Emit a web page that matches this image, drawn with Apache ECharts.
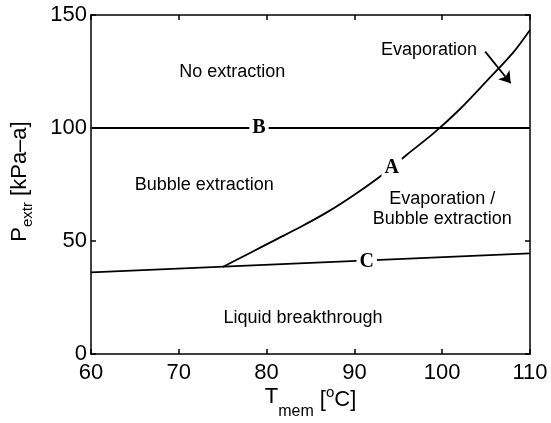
<!DOCTYPE html>
<html><head><meta charset="utf-8">
<script src="https://cdn.jsdelivr.net/npm/echarts@6/dist/echarts.min.js"></script>
<style>html,body{margin:0;padding:0;background:#fff}#c{width:551px;height:423px}</style>
</head><body><div id="c"></div>
<script>
// ---- data ----
const xRange = [60, 110];
const yRange = [0, 150];
const xStep = 10;
const yStep = 50;
// Curve A (evaporation boundary)
const curveA = [[75,38.5],[78,44.5],[81,50.5],[84,56.5],[87,63],[90,70.5],[93,78.8],[96,88.3],[99,97.6],[102,108.3],[105,120.5],[108,133],[110,143.4]];
// Line B (no extraction boundary)
const lineB = [[60,100],[110,100]];
// Line C (liquid breakthrough boundary)
const lineC = [[60,36.1],[110,44.5]];
// Arrow next to "Evaporation"
const arrowFrom = [104.9,133.8];
const arrowTo = [107.8,119.8];
// Region labels
const regionNames = ['No extraction','Bubble extraction','Evaporation','Evaporation /','Bubble extraction','Liquid breakthrough'];
const regionX = [76.1, 72.9, 98.5, 100.0, 100.0, 84.15];
const regionY = [124.8, 74.8, 134.5, 68.5, 59.5, 15.9];
// Curve letters
const letterNames = ['A','B','C'];
const letterX = [94.25, 79.13, 91.4];
const letterY = [82.2, 100, 40.9];

// ---- chart ----
const black = '#000';
const F = 'Liberation Sans';
const axBase = {
  type:'value', splitLine:{show:false}, nameMoveOverlap:false,
  axisLine:{show:true, onZero:false, lineStyle:{color:black, width:1.5}},
  axisTick:{show:true, inside:true, length:5, lineStyle:{color:black, width:1.5}}
};
const chart = echarts.init(document.getElementById('c'), null, {renderer:'canvas'});
chart.setOption({
  animation:false,
  backgroundColor:'#fff',
  grid:{left:91, right:21, top:15, bottom:69, containLabel:false, outerBoundsMode:'none'},
  xAxis:[
    Object.assign({}, axBase, {min:xRange[0], max:xRange[1], interval:xStep, position:'bottom',
      axisLabel:{color:black, fontSize:22, fontFamily:F, margin:8},
      name:'{t|T}{s|mem}{b| [}{o|o}{b|C]}', nameLocation:'middle', nameGap:20,
      nameTextStyle:{color:black, fontFamily:F, rich:{
        t:{fontSize:22, lineHeight:46, verticalAlign:'middle', fontFamily:F, color:black},
        s:{fontSize:16, lineHeight:10, verticalAlign:'bottom', fontFamily:F, color:black},
        b:{fontSize:22, lineHeight:10, verticalAlign:'top', padding:[15,0,0,0], fontFamily:F, color:black},
        o:{fontSize:15, lineHeight:10, verticalAlign:'top', padding:[11,0,0,0], fontFamily:F, color:black}
      }}}),
    Object.assign({}, axBase, {min:xRange[0], max:xRange[1], interval:xStep, position:'top', axisLabel:{show:false}})
  ],
  yAxis:[
    Object.assign({}, axBase, {min:yRange[0], max:yRange[1], interval:yStep, position:'left',
      axisLabel:{color:black, fontSize:22, fontFamily:F, margin:4, padding:[3,0,0,0]},
      name:'{p|P}{s|extr}{p| [kPa\u2013a]}', nameLocation:'middle', nameGap:56,
      nameTextStyle:{color:black, fontFamily:F, padding:[0,0,0,6], rich:{
        p:{fontSize:22, lineHeight:30, verticalAlign:'middle', fontFamily:F, color:black},
        s:{fontSize:15, lineHeight:15, verticalAlign:'bottom', fontFamily:F, color:black}
      }}}),
    Object.assign({}, axBase, {min:yRange[0], max:yRange[1], interval:yStep, position:'right', axisLabel:{show:false}})
  ],
  series:[
    {type:'line', data:curveA, smooth:0.3, symbol:'none', z:2, lineStyle:{color:black, width:1.8}},
    {type:'line', data:lineB, symbol:'none', z:2, lineStyle:{color:black, width:1.8}},
    {type:'line', data:lineC, symbol:'none', z:2, lineStyle:{color:black, width:1.8}},
    {type:'lines', coordinateSystem:'cartesian2d', z:3, symbol:['none','arrow'], symbolSize:11,
      lineStyle:{color:black, width:1.8, opacity:1, curveness:0},
      data:[{coords:[arrowFrom, arrowTo]}]},
    {type:'scatter', symbolSize:0, z:4, silent:true, itemStyle:{opacity:1},
      data: regionNames.map((n,i)=>({name:n, value:[regionX[i], regionY[i]]})),
      label:{show:true, position:'inside', formatter:'{b}', color:black, opacity:1, fontSize:18, fontFamily:F}},
    {type:'scatter', symbolSize:0, z:6, silent:true, itemStyle:{opacity:1},
      data: letterNames.map((n,i)=>({name:n, value:[letterX[i], letterY[i]]})),
      label:{show:true, position:'inside', formatter:'{b}', color:black, opacity:1, fontSize:20, fontWeight:'bold',
        fontFamily:'Liberation Serif', backgroundColor:'#fff', padding:[0,3]}}
  ]
});
</script></body></html>
